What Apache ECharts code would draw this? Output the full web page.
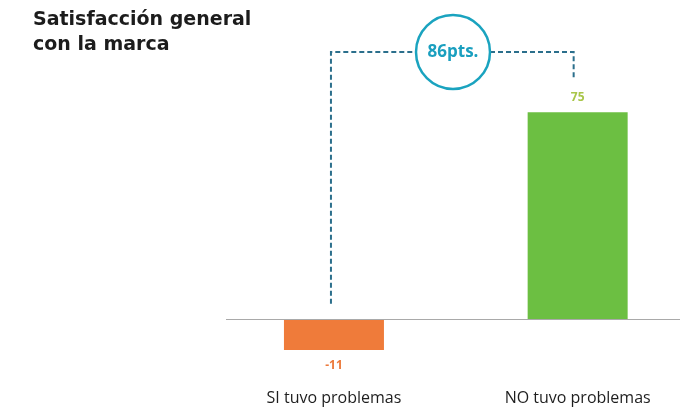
<!DOCTYPE html>
<html>
<head>
<meta charset="utf-8">
<script src="https://cdn.jsdelivr.net/npm/echarts@6/dist/echarts.min.js"></script>
<style>
  html, body { margin: 0; padding: 0; background: #ffffff; }
  #chart { width: 680px; height: 417px; }
</style>
</head>
<body>
<div id="chart"></div>
<script>
// Satisfaction with the brand, split by whether the customer had problems
const categories = ['SI tuvo problemas', 'NO tuvo problemas'];
const values = [-11, 75];
const barColors = ['#ef7b3a', '#6cbf42'];
const labelColors = ['#ec7a3c', '#a9c64a'];

const chart = echarts.init(document.getElementById('chart'), null, { renderer: 'canvas' });

// Bars sit at positions 0 and 1 on a numeric x axis so the plot can run off the right edge
const barData = values.map((v, i) => ({
  value: [i, v],
  itemStyle: { color: barColors[i] },
  label: {
    show: true,
    position: v < 0 ? 'bottom' : 'top',
    distance: 9,
    color: labelColors[i],
    fontFamily: 'Open Sans',
    fontWeight: 'bold',
    fontSize: 12,
    formatter: p => String(p.value[1])
  }
}));

const option = {
  backgroundColor: '#ffffff',
  animation: false,
  title: {
    text: 'Satisfacción general\ncon la marca',
    left: 28,
    top: 3,
    textStyle: {
      fontFamily: 'DejaVu Sans',
      fontWeight: 'bold',
      fontSize: 19,
      lineHeight: 25,
      color: '#1c1c1c'
    }
  },
  grid: { left: 226, right: 0, top: 43, bottom: 42 },
  xAxis: {
    type: 'value',
    min: -0.443,
    max: 1.42,
    splitLine: { show: false },
    axisLine: { show: false, onZero: false },
    axisTick: { show: false },
    axisLabel: {
      customValues: [0, 1],
      formatter: v => categories[Math.round(v)] || '',
      margin: 15,
      fontFamily: 'Open Sans',
      fontSize: 16,
      color: '#1e1e1e'
    }
  },
  yAxis: {
    type: 'value',
    min: -20,
    max: 100,
    show: false,
    splitLine: { show: false }
  },
  series: [{
    type: 'bar',
    barWidth: 100,
    data: barData,
    markLine: {
      silent: true,
      symbol: 'none',
      label: { show: false },
      lineStyle: { color: '#a9a9a9', type: 'solid', width: 1 },
      data: [{ yAxis: 0 }]
    }
  }]
};

chart.setOption(option);

// Bracket between the two bars, with the gap shown in a circle
const gap = values[1] - values[0];
const leftX = chart.convertToPixel({ xAxisIndex: 0 }, 0) - 3;
const rightX = chart.convertToPixel({ xAxisIndex: 0 }, 1) - 4;
const zeroY = chart.convertToPixel({ yAxisIndex: 0 }, 0);
const topY = chart.convertToPixel({ yAxisIndex: 0 }, values[1]);
const bracketY = 52;
const cx = 453, r = 37;
const dash = { stroke: '#2b6f8c', lineWidth: 2, lineDash: [5, 3] };

chart.setOption({
  graphic: [
    { type: 'polyline', shape: { points: [[leftX, zeroY - 16], [leftX, bracketY], [cx - r, bracketY]] }, style: Object.assign({ fill: null }, dash), silent: true },
    { type: 'polyline', shape: { points: [[cx + r, bracketY], [rightX, bracketY], [rightX, topY - 32]] }, style: Object.assign({ fill: null }, dash), silent: true },
    { type: 'circle', shape: { cx: cx, cy: bracketY, r: r }, style: { fill: '#ffffff', stroke: '#1aa3bf', lineWidth: 2.5 }, silent: true },
    { type: 'text', x: cx, y: bracketY, style: { text: gap + 'pts.', fill: '#1a9fbf', font: 'bold 17px "Open Sans"', align: 'center', verticalAlign: 'middle' }, silent: true }
  ]
});
</script>
</body>
</html>
